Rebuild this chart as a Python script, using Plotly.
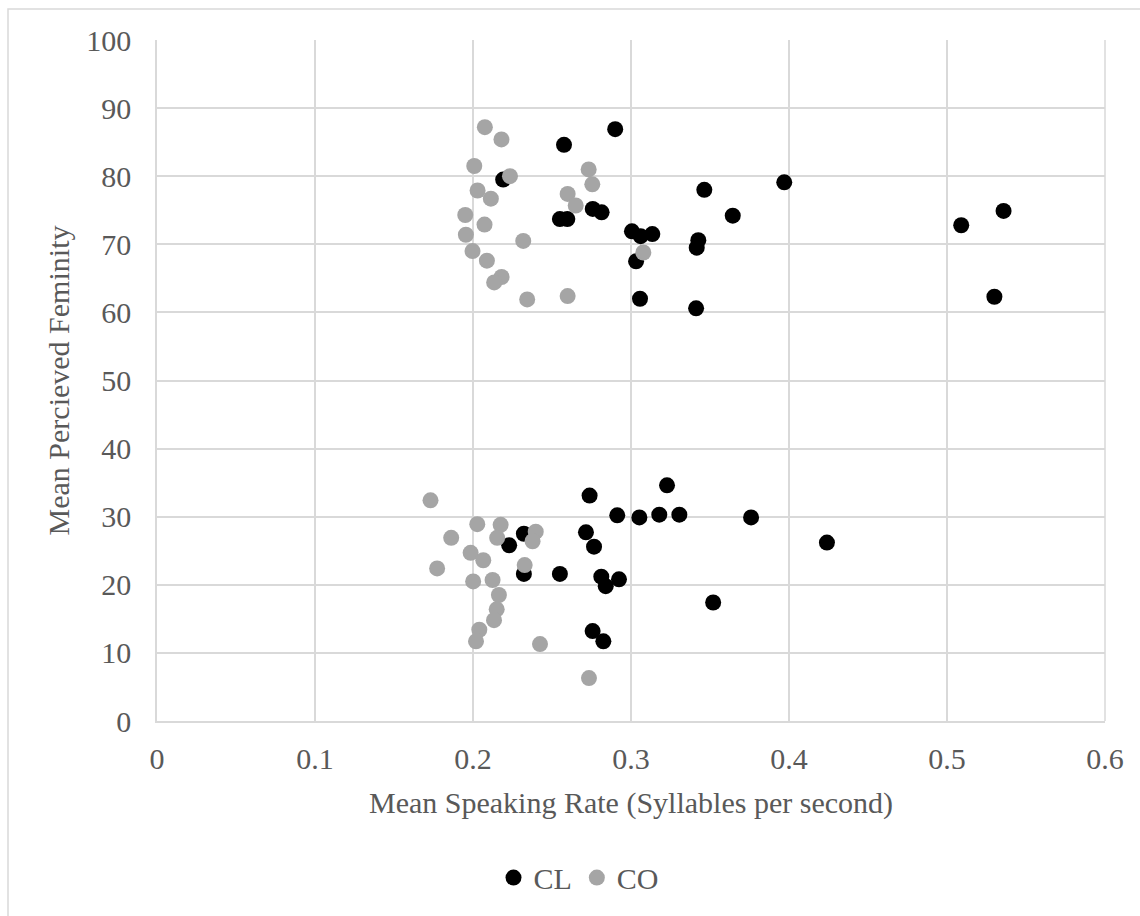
import plotly.graph_objects as go

# CL series (black)
cl_x = [0.290, 0.2576, 0.2191, 0.3464, 0.397, 0.3644, 0.255, 0.2597, 0.2758, 0.2814,
        0.3006, 0.3061, 0.3135, 0.3426, 0.3416, 0.3032, 0.3057, 0.3412, 0.509, 0.5358, 0.530,
        0.3228, 0.2738, 0.2913, 0.3053, 0.3179, 0.3306, 0.376, 0.424, 0.2715, 0.2766,
        0.2322, 0.2229, 0.2322, 0.255, 0.2812, 0.284, 0.2924, 0.352, 0.2757, 0.2825]
cl_y = [86.9, 84.6, 79.5, 78.0, 79.1, 74.2, 73.7, 73.7, 75.2, 74.7,
        71.9, 71.2, 71.5, 70.6, 69.5, 67.5, 62.0, 60.6, 72.8, 74.9, 62.3,
        34.6, 33.1, 30.2, 29.9, 30.3, 30.3, 29.9, 26.2, 27.7, 25.6,
        27.5, 25.8, 21.6, 21.6, 21.2, 19.8, 20.8, 17.4, 13.2, 11.7]

# CO series (gray)
co_x = [0.2075, 0.218, 0.2008, 0.2234, 0.2732, 0.2755, 0.2029, 0.2113, 0.2599, 0.265,
        0.1951, 0.2073, 0.1955, 0.2318, 0.1997, 0.3078, 0.2088, 0.2181, 0.2134, 0.2343, 0.2599,
        0.1731, 0.2027, 0.2175, 0.2397, 0.1862, 0.2153, 0.2377, 0.1985, 0.2065, 0.2327,
        0.1773, 0.2001, 0.2124, 0.2164, 0.215, 0.2133, 0.204, 0.2019, 0.2424, 0.2734]
co_y = [87.2, 85.4, 81.5, 80.0, 81.0, 78.8, 77.9, 76.7, 77.4, 75.7,
        74.3, 72.9, 71.4, 70.5, 69.0, 68.8, 67.6, 65.2, 64.4, 61.9, 62.4,
        32.4, 28.9, 28.8, 27.8, 26.9, 26.9, 26.4, 24.7, 23.6, 22.9,
        22.4, 20.5, 20.7, 18.5, 16.4, 14.8, 13.4, 11.7, 11.3, 6.3]

x_ticks = [0, 0.1, 0.2, 0.3, 0.4, 0.5, 0.6]
x_tick_labels = ["0", "0.1", "0.2", "0.3", "0.4", "0.5", "0.6"]
y_ticks = [0, 10, 20, 30, 40, 50, 60, 70, 80, 90, 100]

FONT = "Liberation Serif"
FS = 30
TXT = "#595959"
GRID = "#d9d9d9"

fig = go.Figure()
fig.add_trace(go.Scatter(x=cl_x, y=cl_y, mode="markers", name="CL",
                         marker=dict(color="#000000", size=16, line=dict(width=0))))
fig.add_trace(go.Scatter(x=co_x, y=co_y, mode="markers", name="CO",
                         marker=dict(color="#a5a5a5", size=16, line=dict(width=0))))

L, R, T, B = 157, 35, 40, 193
W, H = 1140, 916
pw = W - L - R
ph = H - T - B

fig.update_layout(
    width=W, height=H,
    margin=dict(l=L, r=R, t=T, b=B, pad=0),
    paper_bgcolor="white", plot_bgcolor="white",
    font=dict(family=FONT, size=FS, color=TXT),
    showlegend=True,
    legend=dict(orientation="h", x=(579 - L) / pw, xanchor="center",
                y=(H - B - 880) / ph, yanchor="middle",
                font=dict(family=FONT, size=FS, color=TXT),
                itemwidth=30, tracegroupgap=0, bgcolor="rgba(0,0,0,0)"),
    xaxis=dict(range=[0, 0.6], tickvals=x_ticks, ticktext=x_tick_labels,
               showgrid=True, gridcolor=GRID, gridwidth=1.5,
               zeroline=False, showline=True, linecolor=GRID, linewidth=1.5,
               ticks="", ticklabelstandoff=10,
               title=dict(text="Mean Speaking Rate (Syllables per second)",
                          font=dict(family=FONT, size=FS, color=TXT), standoff=18),
               fixedrange=True),
    yaxis=dict(range=[0, 100], tickvals=y_ticks,
               showgrid=True, gridcolor=GRID, gridwidth=1.5,
               zeroline=False, showline=True, linecolor=GRID, linewidth=1.5,
               ticks="", ticklabelstandoff=18,
               title=dict(text="Mean Percieved Feminity",
                          font=dict(family=FONT, size=FS, color=TXT), standoff=8),
               fixedrange=True),
    shapes=[dict(type="rect", xref="paper", yref="paper",
                 x0=(8 - L) / pw, x1=(1200 - L) / pw,
                 y0=(H - B - 1000) / ph, y1=(H - B - 9) / ph,
                 line=dict(color=GRID, width=1.5), fillcolor="rgba(0,0,0,0)", layer="below"),
            dict(type="line", xref="paper", yref="paper", x0=1, x1=1, y0=0, y1=1,
                 line=dict(color=GRID, width=1.5))],
)

fig.write_html("out.html")
